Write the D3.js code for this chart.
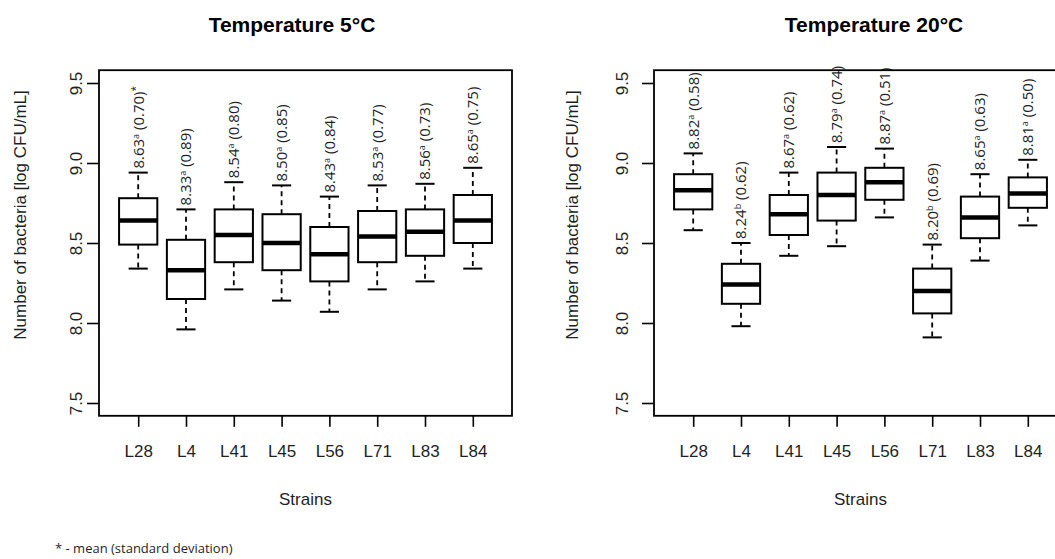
<!DOCTYPE html>
<html>
<head>
<meta charset="utf-8">
<script src="https://cdn.jsdelivr.net/npm/d3@7"></script>
<style>
  html, body { margin: 0; padding: 0; background: #fff; }
  svg { display: block; }
</style>
</head>
<body>
<svg id="chart" width="1055" height="559"></svg>
<script>
// ---------------- data ----------------
const strains = ["L28", "L4", "L41", "L45", "L56", "L71", "L83", "L84"];
const yTicks = [7.5, 8.0, 8.5, 9.0, 9.5];

// Temperature 5°C : five-number summaries
const low5    = [8.34, 7.96, 8.21, 8.14, 8.07, 8.21, 8.26, 8.34];
const q1_5    = [8.49, 8.15, 8.38, 8.33, 8.26, 8.38, 8.42, 8.50];
const median5 = [8.64, 8.33, 8.55, 8.50, 8.43, 8.54, 8.57, 8.64];
const q3_5    = [8.78, 8.52, 8.71, 8.68, 8.60, 8.70, 8.71, 8.80];
const high5   = [8.94, 8.71, 8.88, 8.86, 8.79, 8.86, 8.87, 8.97];
const mean5   = ["8.63", "8.33", "8.54", "8.50", "8.43", "8.53", "8.56", "8.65"];
const sd5     = ["0.70", "0.89", "0.80", "0.85", "0.84", "0.77", "0.73", "0.75"];
const letter5 = ["a", "a", "a", "a", "a", "a", "a", "a"];
const star5   = ["*", "", "", "", "", "", "", ""];

// Temperature 20°C : five-number summaries
const low20    = [8.58, 7.98, 8.42, 8.48, 8.66, 7.91, 8.39, 8.61];
const q1_20    = [8.71, 8.12, 8.55, 8.64, 8.77, 8.06, 8.53, 8.72];
const median20 = [8.83, 8.24, 8.68, 8.80, 8.88, 8.20, 8.66, 8.81];
const q3_20    = [8.93, 8.37, 8.80, 8.94, 8.97, 8.34, 8.79, 8.91];
const high20   = [9.06, 8.50, 8.94, 9.10, 9.09, 8.49, 8.93, 9.02];
const mean20   = ["8.82", "8.24", "8.67", "8.79", "8.87", "8.20", "8.65", "8.81"];
const sd20     = ["0.58", "0.62", "0.62", "0.74", "0.51", "0.69", "0.63", "0.50"];
const letter20 = ["a", "b", "a", "a", "a", "b", "a", "a"];
const star20   = ["", "", "", "", "", "", "", ""];

const yTitle = "Number of bacteria [log CFU/mL]";
const xTitle = "Strains";
const footnote = "* - mean (standard deviation)";

// ---------------- layout ----------------
const svg = d3.select("#chart");
svg.append("rect").attr("width", 1055).attr("height", 559).attr("fill", "#fff");

const panels = [
  { title: "Temperature 5°C", left: 99, right: 512, tickLabOff: 17, yTitleX: 26, titleX: 292,
    low: low5, q1: q1_5, med: median5, q3: q3_5, high: high5,
    mean: mean5, sd: sd5, letter: letter5, star: star5 },
  { title: "Temperature 20°C", left: 654, right: 1067, tickLabOff: 26, yTitleX: 578, titleX: 874,
    low: low20, q1: q1_20, med: median20, q3: q3_20, high: high20,
    mean: mean20, sd: sd20, letter: letter20, star: star20 }
];

const textCol = "#1f1f1f";
const axisFont = "'Liberation Sans', Arial, sans-serif";
const noteFont = "'Open Sans', 'Noto Sans', sans-serif";

const y = d3.scaleLinear().domain([7.5, 9.5]).range([403, 83]);
const plotTop = y(9.58), plotBottom = y(7.42);

panels.forEach(p => {
  const x = d3.scaleLinear().domain([0.18, 8.82]).range([p.left, p.right]);
  const bw = x(0.4) - x(0);   // half box width (boxwex 0.8)
  const cw = x(0.2) - x(0);   // half staple width
  const g = svg.append("g");

  strains.forEach((s, i) => {
    const cx = x(i + 1);
    const bg = g.append("g");
    bg.append("line").attr("x1", cx).attr("x2", cx)
      .attr("y1", y(p.q3[i])).attr("y2", y(p.high[i]))
      .attr("stroke", "#000").attr("stroke-width", 1.8).attr("stroke-dasharray", "5,4");
    bg.append("line").attr("x1", cx).attr("x2", cx)
      .attr("y1", y(p.q1[i])).attr("y2", y(p.low[i]))
      .attr("stroke", "#000").attr("stroke-width", 1.8).attr("stroke-dasharray", "5,4");
    [p.high[i], p.low[i]].forEach(v => {
      bg.append("line").attr("x1", cx - cw).attr("x2", cx + cw)
        .attr("y1", y(v)).attr("y2", y(v))
        .attr("stroke", "#000").attr("stroke-width", 2);
    });
    bg.append("rect").attr("x", cx - bw).attr("width", 2 * bw)
      .attr("y", y(p.q3[i])).attr("height", y(p.q1[i]) - y(p.q3[i]))
      .attr("fill", "#fff").attr("stroke", "#000").attr("stroke-width", 2);
    bg.append("line").attr("x1", cx - bw).attr("x2", cx + bw)
      .attr("y1", y(p.med[i])).attr("y2", y(p.med[i]))
      .attr("stroke", "#000").attr("stroke-width", 4.5);

    const t = g.append("text")
      .attr("transform", `translate(${cx},${y(p.high[i]) - 4}) rotate(-90)`)
      .attr("dy", "0.36em")
      .attr("font-family", noteFont).attr("font-size", 15)
      .attr("fill", textCol);
    t.append("tspan").text(p.mean[i]);
    t.append("tspan").attr("font-size", 9).attr("dy", -5).text(p.letter[i]);
    t.append("tspan").attr("dy", 5).text(" (" + p.sd[i] + ")");
    if (p.star[i]) t.append("tspan").attr("font-size", 10).attr("dy", -5).text(p.star[i]);
  });

  g.append("rect").attr("x", p.left).attr("y", plotTop)
    .attr("width", p.right - p.left).attr("height", plotBottom - plotTop)
    .attr("fill", "none").attr("stroke", "#000").attr("stroke-width", 1.8);

  const ya = g.append("g").attr("transform", `translate(${p.left},0)`)
    .call(d3.axisLeft(y).tickValues(yTicks).tickSize(12).tickFormat(d3.format(".1f")));
  ya.select(".domain").remove();
  ya.selectAll(".tick line").attr("stroke", "#000").attr("stroke-width", 1.6);
  ya.selectAll(".tick text")
    .attr("transform", "rotate(-90)")
    .attr("x", 0).attr("y", -p.tickLabOff).attr("dy", 0)
    .attr("text-anchor", "middle")
    .attr("font-family", axisFont).attr("font-size", 17).attr("fill", textCol);

  const xa = g.append("g").attr("transform", `translate(0,${plotBottom})`)
    .call(d3.axisBottom(x).tickValues(d3.range(1, strains.length + 1))
      .tickSize(11).tickFormat(d => strains[d - 1]));
  xa.select(".domain").remove();
  xa.selectAll(".tick line").attr("stroke", "#000").attr("stroke-width", 1.6);
  xa.selectAll(".tick text")
    .attr("y", 457 - plotBottom).attr("dy", 0)
    .attr("font-family", axisFont).attr("font-size", 17).attr("fill", textCol);

  const cxm = (p.left + p.right) / 2;
  svg.append("text").attr("x", p.titleX).attr("y", 32).attr("text-anchor", "middle")
    .attr("font-family", axisFont).attr("font-weight", "bold").attr("font-size", 21)
    .attr("fill", "#000").text(p.title);
  svg.append("text").attr("x", cxm).attr("y", 505).attr("text-anchor", "middle")
    .attr("font-family", axisFont).attr("font-size", 17).attr("fill", textCol).text(xTitle);
  svg.append("text")
    .attr("transform", `translate(${p.yTitleX},215) rotate(-90)`)
    .attr("text-anchor", "middle")
    .attr("font-family", axisFont).attr("font-size", 17).attr("fill", textCol).text(yTitle);
});

svg.append("text").attr("x", 55).attr("y", 553)
  .attr("font-family", noteFont).attr("font-size", 13).attr("fill", textCol).text(footnote);
</script>
</body>
</html>
